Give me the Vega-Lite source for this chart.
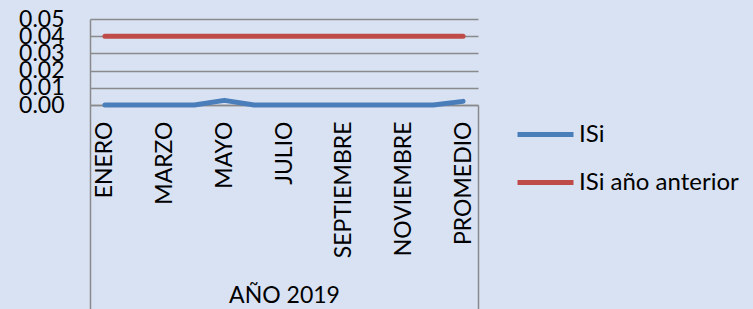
{
  "$schema": "https://vega.github.io/schema/vega-lite/v6.json",
  "width": 388,
  "height": 86,
  "autosize": {"type": "none"},
  "padding": {"left": 90, "top": 19, "right": 275, "bottom": 204},
  "background": "#d8e2f3",
  "config": {
    "font": "Lato",
    "view": {"stroke": null},
    "axis": {"labelColor": "#000000", "labelFont": "Lato"}
  },
  "resolve": {"scale": {"x": "independent"}},
  "layer": [
    {
      "data": {
        "values": [
          {"mes": "ENERO", "orden": 1, "serie": "ISi", "valor": 0},
          {"mes": "FEBRERO", "orden": 2, "serie": "ISi", "valor": 0},
          {"mes": "MARZO", "orden": 3, "serie": "ISi", "valor": 0},
          {"mes": "ABRIL", "orden": 4, "serie": "ISi", "valor": 0},
          {"mes": "MAYO", "orden": 5, "serie": "ISi", "valor": 0.0027},
          {"mes": "JUNIO", "orden": 6, "serie": "ISi", "valor": 0},
          {"mes": "JULIO", "orden": 7, "serie": "ISi", "valor": 0},
          {"mes": "AGOSTO", "orden": 8, "serie": "ISi", "valor": 0},
          {"mes": "SEPTIEMBRE", "orden": 9, "serie": "ISi", "valor": 0},
          {"mes": "OCTUBRE", "orden": 10, "serie": "ISi", "valor": 0},
          {"mes": "NOVIEMBRE", "orden": 11, "serie": "ISi", "valor": 0},
          {"mes": "DICIEMBRE", "orden": 12, "serie": "ISi", "valor": 0},
          {"mes": "PROMEDIO", "orden": 13, "serie": "ISi", "valor": 0.0021},
          {"mes": "ENERO", "orden": 1, "serie": "ISi año anterior", "valor": 0.04},
          {"mes": "FEBRERO", "orden": 2, "serie": "ISi año anterior", "valor": 0.04},
          {"mes": "MARZO", "orden": 3, "serie": "ISi año anterior", "valor": 0.04},
          {"mes": "ABRIL", "orden": 4, "serie": "ISi año anterior", "valor": 0.04},
          {"mes": "MAYO", "orden": 5, "serie": "ISi año anterior", "valor": 0.04},
          {"mes": "JUNIO", "orden": 6, "serie": "ISi año anterior", "valor": 0.04},
          {"mes": "JULIO", "orden": 7, "serie": "ISi año anterior", "valor": 0.04},
          {"mes": "AGOSTO", "orden": 8, "serie": "ISi año anterior", "valor": 0.04},
          {"mes": "SEPTIEMBRE", "orden": 9, "serie": "ISi año anterior", "valor": 0.04},
          {"mes": "OCTUBRE", "orden": 10, "serie": "ISi año anterior", "valor": 0.04},
          {"mes": "NOVIEMBRE", "orden": 11, "serie": "ISi año anterior", "valor": 0.04},
          {"mes": "DICIEMBRE", "orden": 12, "serie": "ISi año anterior", "valor": 0.04},
          {"mes": "PROMEDIO", "orden": 13, "serie": "ISi año anterior", "valor": 0.04}
        ]
      },
      "mark": {"type": "line", "strokeWidth": 5, "strokeCap": "round", "strokeJoin": "round"},
      "encoding": {
        "x": {
          "field": "mes",
          "type": "ordinal",
          "sort": {"field": "orden"},
          "scale": {"type": "point", "padding": 0.5},
          "axis": {
            "orient": "bottom",
            "title": null,
            "values": ["ENERO", "MARZO", "MAYO", "JULIO", "SEPTIEMBRE", "NOVIEMBRE", "PROMEDIO"],
            "labelAngle": -90,
            "labelAlign": "right",
            "labelBaseline": "middle",
            "labelFontSize": 23,
            "labelPadding": 16,
            "labelOverlap": false,
            "ticks": false,
            "domain": true,
            "domainColor": "#8a8a8a",
            "domainWidth": 1.5,
            "grid": false
          }
        },
        "y": {
          "field": "valor",
          "type": "quantitative",
          "scale": {"domain": [0, 0.05], "nice": false},
          "axis": {
            "title": null,
            "values": [0, 0.01, 0.02, 0.03, 0.04, 0.05],
            "format": ".2f",
            "labelFontSize": 23,
            "labelPadding": 26,
            "labelOverlap": false,
            "labelFlush": false,
            "labelBound": false,
            "ticks": false,
            "domain": true,
            "domainColor": "#8a8a8a",
            "domainWidth": 1.5,
            "grid": true,
            "gridColor": "#8a8a8a",
            "gridWidth": 1.5
          }
        },
        "color": {
          "field": "serie",
          "type": "nominal",
          "scale": {"domain": ["ISi", "ISi año anterior"], "range": ["#4a7ebb", "#be4b48"]},
          "legend": {
            "title": null,
            "orient": "none",
            "legendX": 425,
            "legendY": 85,
            "symbolType": "stroke",
            "symbolSize": 3136,
            "symbolStrokeWidth": 5,
            "labelFontSize": 24,
            "labelColor": "#000000",
            "labelOffset": 3,
            "rowPadding": 5
          }
        }
      }
    },
    {
      "data": {"values": [{"grupo": "AÑO 2019"}]},
      "mark": {"type": "point", "opacity": 0},
      "encoding": {
        "x": {
          "field": "grupo",
          "type": "nominal",
          "scale": {"type": "band", "paddingInner": 0, "paddingOuter": 0},
          "axis": {
            "orient": "bottom",
            "title": null,
            "tickBand": "extent",
            "tickSize": 205,
            "tickColor": "#8a8a8a",
            "tickWidth": 1.5,
            "domain": false,
            "labelAngle": 0,
            "labelFontSize": 23,
            "labelPadding": -26,
            "grid": false
          }
        }
      }
    }
  ]
}
